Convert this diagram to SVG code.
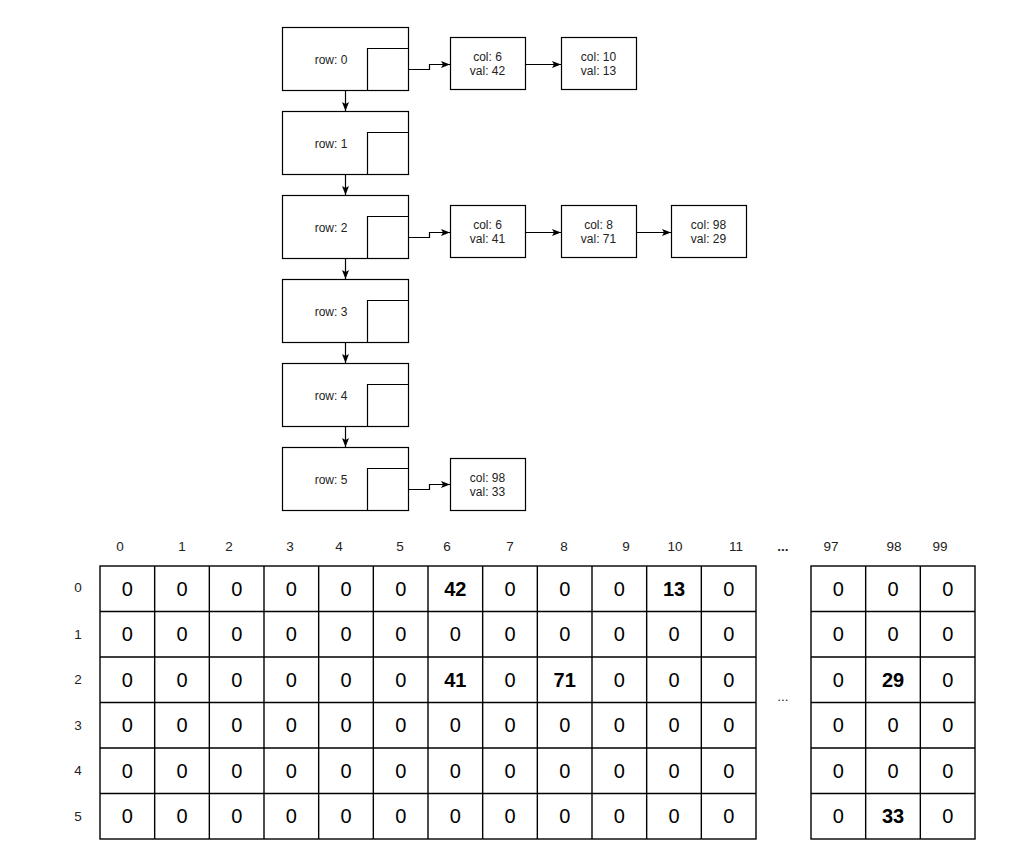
<svg xmlns="http://www.w3.org/2000/svg" width="1024" height="846" viewBox="0 0 1024 846">
<style>
.box{fill:#fff;stroke:#000;stroke-width:1.2}
.inner{fill:none;stroke:#000;stroke-width:1.2}
.t{font-family:"Liberation Sans",Arial,sans-serif;font-size:12px;fill:#222;text-anchor:middle}
.edge{fill:none;stroke:#000;stroke-width:1.2}
.grid{fill:none;stroke:#000;stroke-width:1.4}
.c{font-family:"Liberation Sans",Arial,sans-serif;font-size:20px;fill:#000;text-anchor:middle}
.b{font-weight:bold}
.h{font-family:"Liberation Sans",Arial,sans-serif;font-size:13.5px;fill:#222;text-anchor:middle}
</style>
<defs>
<marker id="arr" markerUnits="userSpaceOnUse" markerWidth="10" markerHeight="8" refX="9" refY="4" orient="auto">
<path d="M0,0.5 L9,4 L0,7.5 L2,4 z" fill="#000"/>
</marker>
</defs>
<rect width="1024" height="846" fill="#fff"/>

<g id="row0"><rect class="box" x="282.5" y="27.5" width="126" height="63"/><path class="inner" d="M408.5,48.5 H367.5 V90.5"/><text class="t" x="331" y="63.5">row: 0</text></g>
<g id="row1"><rect class="box" x="282.5" y="111.5" width="126" height="63"/><path class="inner" d="M408.5,132.5 H367.5 V174.5"/><text class="t" x="331" y="147.5">row: 1</text></g>
<g id="row2"><rect class="box" x="282.5" y="195.5" width="126" height="63"/><path class="inner" d="M408.5,216.5 H367.5 V258.5"/><text class="t" x="331" y="231.5">row: 2</text></g>
<g id="row3"><rect class="box" x="282.5" y="279.5" width="126" height="63"/><path class="inner" d="M408.5,300.5 H367.5 V342.5"/><text class="t" x="331" y="315.5">row: 3</text></g>
<g id="row4"><rect class="box" x="282.5" y="363.5" width="126" height="63"/><path class="inner" d="M408.5,384.5 H367.5 V426.5"/><text class="t" x="331" y="399.5">row: 4</text></g>
<g id="row5"><rect class="box" x="282.5" y="447.5" width="126" height="63"/><path class="inner" d="M408.5,468.5 H367.5 V510.5"/><text class="t" x="331" y="483.5">row: 5</text></g>

<g id="r0c6"><rect class="box" x="450.5" y="37.5" width="75" height="52"/><text class="t" x="487.5" y="61">col: 6</text><text class="t" x="487.5" y="75">val: 42</text></g>
<g id="r0c10"><rect class="box" x="561.5" y="37.5" width="75" height="52"/><text class="t" x="598.5" y="61">col: 10</text><text class="t" x="598.5" y="75">val: 13</text></g>
<g id="r2c6"><rect class="box" x="450.5" y="205.5" width="75" height="52"/><text class="t" x="487.5" y="229">col: 6</text><text class="t" x="487.5" y="243">val: 41</text></g>
<g id="r2c8"><rect class="box" x="561.5" y="205.5" width="75" height="52"/><text class="t" x="598.5" y="229">col: 8</text><text class="t" x="598.5" y="243">val: 71</text></g>
<g id="r2c98"><rect class="box" x="671.5" y="205.5" width="75" height="52"/><text class="t" x="708.5" y="229">col: 98</text><text class="t" x="708.5" y="243">val: 29</text></g>
<g id="r5c98"><rect class="box" x="450.5" y="458.5" width="75" height="52"/><text class="t" x="487.5" y="482">col: 98</text><text class="t" x="487.5" y="496">val: 33</text></g>

<g id="connectors">
<path class="edge" marker-end="url(#arr)" d="M345.5,90.5 V111"/>
<path class="edge" marker-end="url(#arr)" d="M345.5,174.5 V195"/>
<path class="edge" marker-end="url(#arr)" d="M345.5,258.5 V279"/>
<path class="edge" marker-end="url(#arr)" d="M345.5,342.5 V363"/>
<path class="edge" marker-end="url(#arr)" d="M345.5,426.5 V447"/>
<path class="edge" marker-end="url(#arr)" d="M408.5,69.5 H429.5 V64.5 H450"/>
<path class="edge" marker-end="url(#arr)" d="M525.5,64.5 H561"/>
<path class="edge" marker-end="url(#arr)" d="M408.5,237.5 H429.5 V232.5 H450"/>
<path class="edge" marker-end="url(#arr)" d="M525.5,232.5 H561"/>
<path class="edge" marker-end="url(#arr)" d="M636.5,232.5 H671"/>
<path class="edge" marker-end="url(#arr)" d="M408.5,489.5 H429.5 V484.5 H450"/>
</g>

<g id="col-headers">
<text class="h" x="120" y="550.5">0</text><text class="h" x="182" y="550.5">1</text><text class="h" x="229" y="550.5">2</text><text class="h" x="290" y="550.5">3</text><text class="h" x="339" y="550.5">4</text><text class="h" x="400" y="550.5">5</text><text class="h" x="447" y="550.5">6</text><text class="h" x="510" y="550.5">7</text><text class="h" x="564" y="550.5">8</text><text class="h" x="626" y="550.5">9</text><text class="h" x="675" y="550.5">10</text><text class="h" x="736" y="550.5">11</text><text class="h b" x="783" y="550.5">...</text><text class="h" x="831" y="550.5">97</text><text class="h" x="894" y="550.5">98</text><text class="h" x="940" y="550.5">99</text>
</g>
<g id="row-headers">
<text class="h" x="78" y="592">0</text><text class="h" x="78" y="638.5">1</text><text class="h" x="78" y="684">2</text><text class="h" x="78" y="729.5">3</text><text class="h" x="78" y="775">4</text><text class="h" x="78" y="821">5</text>
</g>

<g id="matrix-left">
<rect class="grid" x="100" y="566" width="656" height="273"/>
<path class="grid" d="M154.67,566V839M209.33,566V839M264,566V839M318.67,566V839M373.33,566V839M428,566V839M482.67,566V839M537.33,566V839M592,566V839M646.67,566V839M701.33,566V839M100,611.5H756M100,657H756M100,702.5H756M100,748H756M100,793.5H756"/>
</g>
<g id="matrix-right">
<rect class="grid" x="811" y="566" width="164" height="273"/>
<path class="grid" d="M865.67,566V839M920.33,566V839M811,611.5H975M811,657H975M811,702.5H975M811,748H975M811,793.5H975"/>
</g>
<text class="h" x="783" y="701">...</text>

<g id="cells">
<g transform="translate(0,595.75)">
<text class="c" x="127.3">0</text><text class="c" x="182">0</text><text class="c" x="236.7">0</text><text class="c" x="291.3">0</text><text class="c" x="346">0</text><text class="c" x="400.7">0</text><text class="c b" x="455.3">42</text><text class="c" x="510">0</text><text class="c" x="564.7">0</text><text class="c" x="619.3">0</text><text class="c b" x="674">13</text><text class="c" x="728.7">0</text><text class="c" x="838.3">0</text><text class="c" x="893">0</text><text class="c" x="947.7">0</text>
</g>
<g transform="translate(0,641.25)">
<text class="c" x="127.3">0</text><text class="c" x="182">0</text><text class="c" x="236.7">0</text><text class="c" x="291.3">0</text><text class="c" x="346">0</text><text class="c" x="400.7">0</text><text class="c" x="455.3">0</text><text class="c" x="510">0</text><text class="c" x="564.7">0</text><text class="c" x="619.3">0</text><text class="c" x="674">0</text><text class="c" x="728.7">0</text><text class="c" x="838.3">0</text><text class="c" x="893">0</text><text class="c" x="947.7">0</text>
</g>
<g transform="translate(0,686.75)">
<text class="c" x="127.3">0</text><text class="c" x="182">0</text><text class="c" x="236.7">0</text><text class="c" x="291.3">0</text><text class="c" x="346">0</text><text class="c" x="400.7">0</text><text class="c b" x="455.3">41</text><text class="c" x="510">0</text><text class="c b" x="564.7">71</text><text class="c" x="619.3">0</text><text class="c" x="674">0</text><text class="c" x="728.7">0</text><text class="c" x="838.3">0</text><text class="c b" x="893">29</text><text class="c" x="947.7">0</text>
</g>
<g transform="translate(0,732.25)">
<text class="c" x="127.3">0</text><text class="c" x="182">0</text><text class="c" x="236.7">0</text><text class="c" x="291.3">0</text><text class="c" x="346">0</text><text class="c" x="400.7">0</text><text class="c" x="455.3">0</text><text class="c" x="510">0</text><text class="c" x="564.7">0</text><text class="c" x="619.3">0</text><text class="c" x="674">0</text><text class="c" x="728.7">0</text><text class="c" x="838.3">0</text><text class="c" x="893">0</text><text class="c" x="947.7">0</text>
</g>
<g transform="translate(0,777.75)">
<text class="c" x="127.3">0</text><text class="c" x="182">0</text><text class="c" x="236.7">0</text><text class="c" x="291.3">0</text><text class="c" x="346">0</text><text class="c" x="400.7">0</text><text class="c" x="455.3">0</text><text class="c" x="510">0</text><text class="c" x="564.7">0</text><text class="c" x="619.3">0</text><text class="c" x="674">0</text><text class="c" x="728.7">0</text><text class="c" x="838.3">0</text><text class="c" x="893">0</text><text class="c" x="947.7">0</text>
</g>
<g transform="translate(0,823.25)">
<text class="c" x="127.3">0</text><text class="c" x="182">0</text><text class="c" x="236.7">0</text><text class="c" x="291.3">0</text><text class="c" x="346">0</text><text class="c" x="400.7">0</text><text class="c" x="455.3">0</text><text class="c" x="510">0</text><text class="c" x="564.7">0</text><text class="c" x="619.3">0</text><text class="c" x="674">0</text><text class="c" x="728.7">0</text><text class="c" x="838.3">0</text><text class="c b" x="893">33</text><text class="c" x="947.7">0</text>
</g>
</g>
</svg>
